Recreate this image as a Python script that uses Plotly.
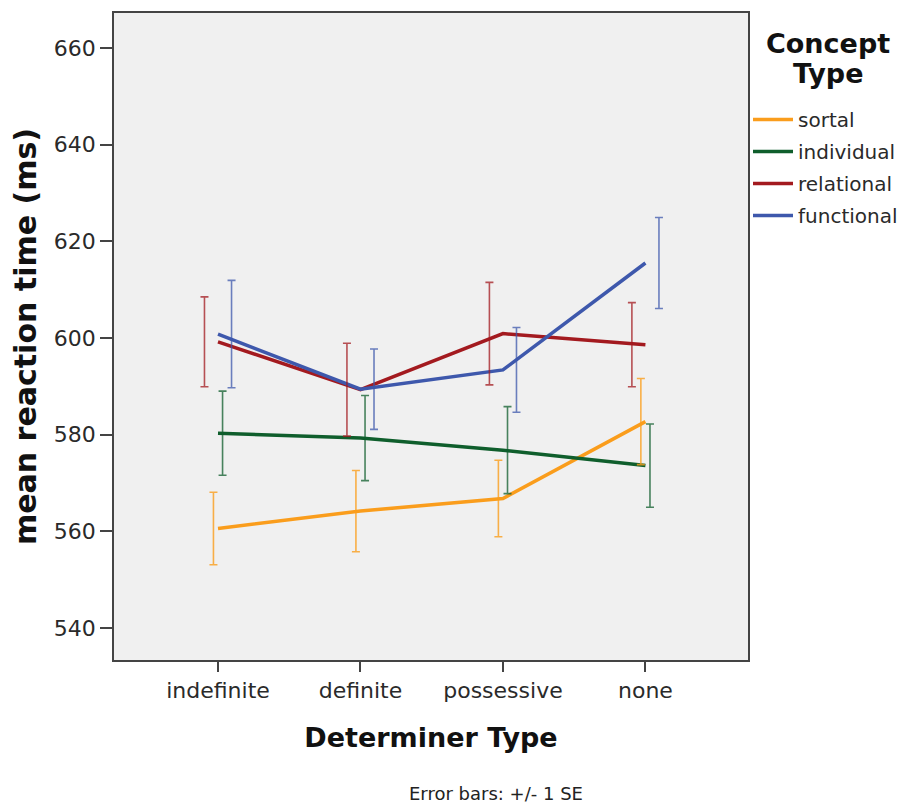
import plotly.graph_objects as go

categories = ["indefinite", "definite", "possessive", "none"]
series_names = ["sortal", "individual", "relational", "functional"]
sortal_mean = [560.6, 564.2, 566.8, 582.7]
individual_mean = [580.3, 579.3, 576.8, 573.6]
relational_mean = [599.2, 589.3, 600.9, 598.6]
functional_mean = [600.8, 589.4, 593.4, 615.5]
sortal_se = [7.5, 8.4, 7.9, 8.9]
individual_se = [8.7, 8.8, 9.0, 8.6]
relational_se = [9.3, 9.6, 10.6, 8.7]
functional_se = [11.1, 8.3, 8.75, 9.4]
y_ticks = [540, 560, 580, 600, 620, 640, 660]

means = [sortal_mean, individual_mean, relational_mean, functional_mean]
ses = [sortal_se, individual_se, relational_se, functional_se]
colors = ["#FA9D1C", "#0F5E2C", "#A31A1F", "#3E58AC"]
bar_colors = ["rgba(250,157,28,0.8)", "rgba(15,94,44,0.75)", "rgba(163,26,31,0.75)", "rgba(62,88,172,0.75)"]
offsets = [-0.032, 0.032, -0.095, 0.095]

xpos = list(range(len(categories)))
fig = go.Figure()
for name, m, c in zip(series_names, means, colors):
    fig.add_trace(go.Scatter(x=xpos, y=m, mode="lines", name=name, legendgroup=name,
                             line=dict(color=c, width=3.5)))
for name, m, s, bc, off in zip(series_names, means, ses, bar_colors, offsets):
    fig.add_trace(go.Scatter(x=[p + off for p in xpos], y=m, mode="markers",
                             marker=dict(size=1, opacity=0, color=bc), legendgroup=name,
                             showlegend=False, hoverinfo="skip",
                             error_y=dict(type="data", array=s, symmetric=True,
                                          color=bc, thickness=1.6, width=4)))

font_reg = "DejaVu Sans, Liberation Sans, Arial, sans-serif"
L, T, R, B = 106, 5, 740, 652
W, H = 906, 795
pw, ph = R - L, B - T
fig.update_layout(
    width=W, height=H,
    margin=dict(l=L, r=W - R, t=T, b=H - B, autoexpand=False),
    paper_bgcolor="white", plot_bgcolor="#F0F0F0",
    font=dict(family=font_reg, size=22, color="#2a2a2a"),
    showlegend=True,
    legend=dict(x=1.0, xanchor="left", y=(B - 92) / ph, yanchor="top",
                font=dict(size=20, color="#2a2a2a"), bgcolor="rgba(0,0,0,0)",
                borderwidth=0, itemwidth=40, tracegroupgap=3),
    xaxis=dict(range=[-0.73, 3.72], tickvals=xpos, ticktext=categories,
               showgrid=False, zeroline=False, showline=True, mirror=True,
               linecolor="#444", linewidth=1.5, ticks="outside", ticklen=10,
               tickcolor="#444", tickwidth=1.5, automargin=False,
               title=dict(text="<b>Determiner Type</b>", standoff=26,
                          font=dict(size=27, color="#111"))),
    yaxis=dict(range=[533.4, 667.2], tickvals=y_ticks,
               showgrid=False, zeroline=False, showline=True, mirror=True,
               linecolor="#444", linewidth=1.5, ticks="outside", ticklen=12,
               tickcolor="#444", tickwidth=1.5, automargin=False,
               title=dict(text="<b>mean reaction time (ms)</b>", standoff=14,
                          font=dict(size=30, color="#111"))),
    annotations=[
        dict(text="<b>Concept</b>", x=(820 - L) / pw, y=(B - 35) / ph, xref="paper", yref="paper",
             xanchor="center", yanchor="middle", showarrow=False,
             font=dict(size=27, color="#111")),
        dict(text="<b>Type</b>", x=(820 - L) / pw, y=(B - 65) / ph, xref="paper", yref="paper",
             xanchor="center", yanchor="middle", showarrow=False,
             font=dict(size=27, color="#111")),
        dict(text="Error bars: +/- 1 SE", x=(488 - L) / pw, y=-(785 - B) / ph,
             xref="paper", yref="paper", xanchor="center", yanchor="middle",
             showarrow=False, font=dict(size=18, color="#222")),
    ],
)
fig.write_html("out.html")
